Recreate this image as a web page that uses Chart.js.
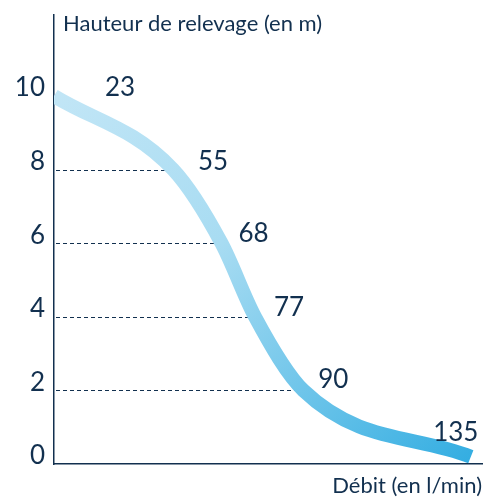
<!DOCTYPE html>
<html lang="fr">
<head>
<meta charset="UTF-8">
<title>Courbe de relevage</title>
<script src="https://cdn.jsdelivr.net/npm/chart.js"></script>
<style>
  html, body { margin: 0; padding: 0; background: #fff; }
  #wrap { width: 493px; height: 499px; }
</style>
</head>
<body>
<div id="wrap"><canvas id="pumpChart"></canvas></div>
<script>
  // débit (l/min) at each lifting height (m)
  const debit = [23, 55, 68, 77, 90, 135];
  const hauteur = [10, 8, 6, 4, 2, 0.2];
  const hauteurTicks = [0, 2, 4, 6, 8, 10];
  const guideHauteurs = [8, 6, 4, 2];

  const navy = "#12304f";
  const family = "Lato, 'Open Sans', sans-serif";

  // dashed guides from the axis to the curve, drawn under the curve
  const guides = {
    id: "guides",
    beforeDatasetsDraw(chart) {
      const { ctx, chartArea, scales } = chart;
      ctx.save();
      ctx.strokeStyle = navy;
      ctx.lineWidth = 1;
      ctx.setLineDash([4, 3]);
      guideHauteurs.forEach((h) => {
        const i = hauteur.indexOf(h);
        const y = Math.round(scales.y.getPixelForValue(h)) + 0.5;
        const x = scales.x.getPixelForValue(debit[i]) - 6;
        ctx.beginPath();
        ctx.moveTo(chartArea.left + 2, y);
        ctx.lineTo(x, y);
        ctx.stroke();
      });
      ctx.restore();
    },
  };

  // débit value next to each point, plus the y axis caption
  const labelOffsets = [[66, -8], [40, -8], [32, -10], [34, -9], [30, -11], [-15, -24]];
  const annotations = {
    id: "annotations",
    afterDatasetsDraw(chart) {
      const { ctx, scales } = chart;
      ctx.save();
      ctx.fillStyle = navy;
      ctx.textAlign = "center";
      ctx.textBaseline = "middle";
      ctx.font = "26px " + family;
      debit.forEach((q, i) => {
        const x = scales.x.getPixelForValue(q) + labelOffsets[i][0];
        const y = scales.y.getPixelForValue(hauteur[i]) + labelOffsets[i][1];
        ctx.fillText(String(q), x, y);
      });
      ctx.textAlign = "left";
      ctx.textBaseline = "alphabetic";
      ctx.font = "22px " + family;
      ctx.fillText("Hauteur de relevage (en m)", chart.chartArea.left + 9, 31);
      ctx.restore();
    },
  };

  new Chart(document.getElementById("pumpChart"), {
    type: "line",
    data: {
      datasets: [
        {
          data: debit.map((q, i) => ({ x: q, y: hauteur[i] })),
          borderWidth: 14,
          borderCapStyle: "butt",
          cubicInterpolationMode: "monotone",
          pointRadius: 0,
          clip: { left: 0, top: false, right: false, bottom: false },
          borderColor(ctx) {
            const area = ctx.chart.chartArea;
            if (!area) return "#9bd6f0";
            const g = ctx.chart.ctx.createLinearGradient(area.left, area.top, area.right, area.bottom);
            g.addColorStop(0, "#c8e8f7");
            g.addColorStop(0.45, "#a8dcf2");
            g.addColorStop(1, "#30ace1");
            return g;
          },
        },
      ],
    },
    options: {
      responsive: true,
      maintainAspectRatio: false,
      animation: false,
      layout: { padding: { top: 15, right: 11, left: 0, bottom: 0 } },
      plugins: { legend: { display: false }, tooltip: { enabled: false } },
      scales: {
        x: {
          type: "linear",
          min: 23,
          max: 138,
          grid: { display: false, drawTicks: false },
          border: { display: true, color: navy, width: 1.5 },
          ticks: { display: false },
          title: {
            display: true,
            text: "Débit (en l/min)",
            align: "end",
            color: navy,
            font: { family, size: 22 },
            padding: 0,
          },
          afterFit(scale) {
            scale.height = 35;
            scale.paddingLeft = 0;
            scale.paddingRight = 0;
          },
        },
        y: {
          min: 0,
          max: 12.2,
          afterBuildTicks(scale) { scale.ticks = hauteurTicks.map((v) => ({ value: v })); },
          grid: { display: false, drawTicks: false },
          border: { display: true, color: navy, width: 1.5 },
          ticks: { color: navy, font: { family, size: 26 }, padding: 9, labelOffset: -8 },
          afterFit(scale) {
            scale.width = 54;
            scale.paddingTop = 0;
            scale.paddingBottom = 0;
          },
        },
      },
    },
    plugins: [guides, annotations],
  });
</script>
</body>
</html>
